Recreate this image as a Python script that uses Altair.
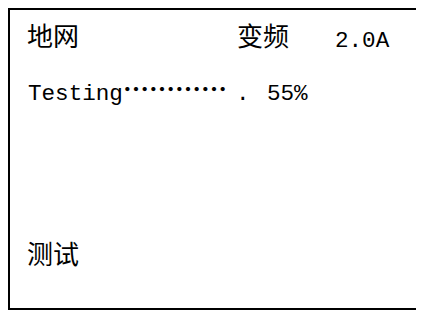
import altair as alt
import pandas as pd

# Display content
ground_label = "地网"
mode_label = "变频"
current_label = "2.0A"
status_label = "Testing"
dots_label = "…………"
progress_value = 55
footer_label = "测试"

CJK = "Noto Sans CJK SC"
MONO = "Liberation Mono"

one = pd.DataFrame({"k": [0]})
base = alt.Chart(one)


def txt(text, x, y, font, size, weight="normal"):
    return base.mark_text(
        text=text, align="left", baseline="alphabetic", font=font, fontSize=size,
        fontWeight=weight, color="#000000"
    ).encode(x=alt.value(x), y=alt.value(y))


W, H = 408, 302
left_rule = base.mark_rule(color="#000000", strokeWidth=2).encode(
    x=alt.value(1), y=alt.value(0), y2=alt.value(H)
)
top_rule = base.mark_rule(color="#000000", strokeWidth=2).encode(
    x=alt.value(0), x2=alt.value(W), y=alt.value(1)
)
bottom_rule = base.mark_rule(color="#000000", strokeWidth=2).encode(
    x=alt.value(0), x2=alt.value(W), y=alt.value(H - 1)
)

chart = alt.layer(
    left_rule,
    top_rule,
    bottom_rule,
    txt(ground_label, 19, 38, CJK, 26),
    txt(mode_label, 229, 38, CJK, 26),
    txt(current_label, 327, 39, MONO, 22.6),
    txt(status_label, 20, 92, MONO, 22.6),
    txt(dots_label, 115, 91, CJK, 26, "bold"),
    txt(".", 228, 92, MONO, 22.6),
    txt(f"{progress_value}%", 259, 92, MONO, 22.6),
    txt(footer_label, 19, 256, CJK, 26),
).properties(
    width=W, height=H, padding=0, autosize=alt.AutoSizeParams(type="none"), background="white"
).configure_view(stroke=None)

chart.save("out.html", embed_options={"renderer": "svg", "actions": False})
